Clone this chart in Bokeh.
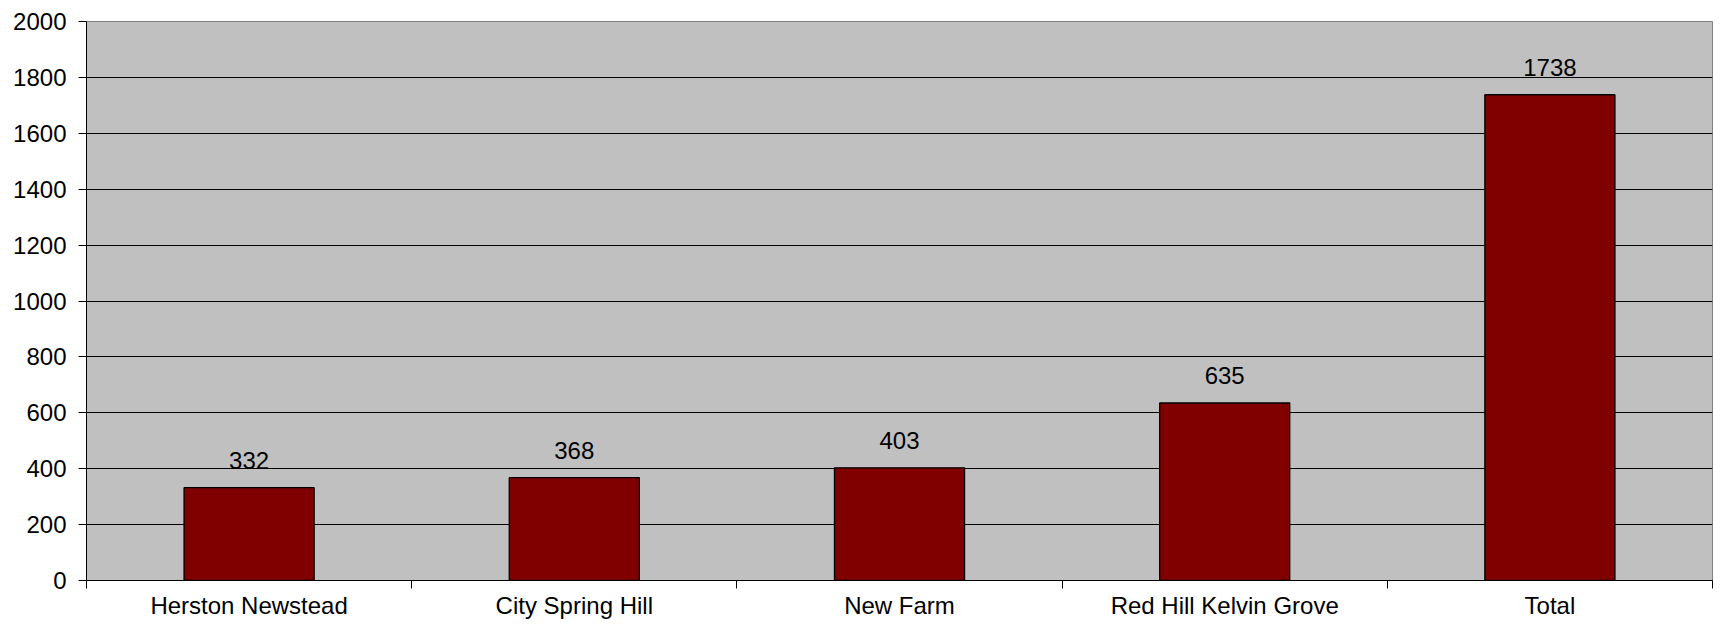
from bokeh.plotting import figure
from bokeh.models import Range1d, FixedTicker, ColumnDataSource, LabelSet
from bokeh.core.properties import value
from bokeh.embed import file_html
from bokeh.resources import INLINE

categories = ["Herston Newstead", "City Spring Hill", "New Farm", "Red Hill Kelvin Grove", "Total"]
values = [332, 368, 403, 635, 1738]
y_ticks = [0, 200, 400, 600, 800, 1000, 1200, 1400, 1600, 1800, 2000]

xs = [i + 0.5 for i in range(len(categories))]
source = ColumnDataSource(dict(x=xs, top=values, label=[str(v) for v in values]))

FONT = "Liberation Sans"

p = figure(width=1713, height=621, output_backend="svg", toolbar_location=None,
           x_range=Range1d(0, len(categories)), y_range=Range1d(0, 2000),
           min_border_left=86, min_border_top=21, min_border_right=1, min_border_bottom=41)

p.background_fill_color = "#C0C0C0"
p.border_fill_color = "white"
p.outline_line_color = "#808080"
p.outline_line_width = 1

p.vbar(x="x", top="top", width=0.4, bottom=0, source=source,
       fill_color="#800000", line_color="black", line_width=1.3)

labels = LabelSet(x="x", y="top", text="label", source=source,
                  text_align="center", text_baseline="alphabetic", y_offset=19,
                  text_font=value(FONT), text_font_size="24px", text_color="black")
p.add_layout(labels)

# y axis
p.yaxis.ticker = FixedTicker(ticks=y_ticks)
p.yaxis.axis_line_color = "black"
p.yaxis.major_tick_line_color = "black"
p.yaxis.major_tick_out = 8
p.yaxis.major_tick_in = 0
p.yaxis.minor_tick_line_color = None
p.yaxis.major_label_standoff = 12
p.yaxis.major_label_text_font = FONT
p.yaxis.major_label_text_font_size = "24px"
p.yaxis.major_label_text_color = "black"

# x axis: labels at category centres, ticks at category boundaries
p.xaxis.ticker = FixedTicker(ticks=xs, minor_ticks=list(range(len(categories) + 1)))
p.xaxis.major_label_overrides = {x: c for x, c in zip(xs, categories)}
p.xaxis.axis_line_color = "black"
p.xaxis.major_tick_line_color = None
p.xaxis.major_tick_out = 0
p.xaxis.major_tick_in = 0
p.xaxis.minor_tick_line_color = "black"
p.xaxis.minor_tick_out = 8
p.xaxis.minor_tick_in = 0
p.xaxis.major_label_standoff = 3
p.xaxis.major_label_text_font = FONT
p.xaxis.major_label_text_font_size = "24px"
p.xaxis.major_label_text_color = "black"

p.xgrid.grid_line_color = None
p.ygrid.ticker = FixedTicker(ticks=y_ticks[1:-1])
p.ygrid.grid_line_color = "black"
p.ygrid.grid_line_width = 1

open("out.html", "w").write(file_html(p, INLINE))
